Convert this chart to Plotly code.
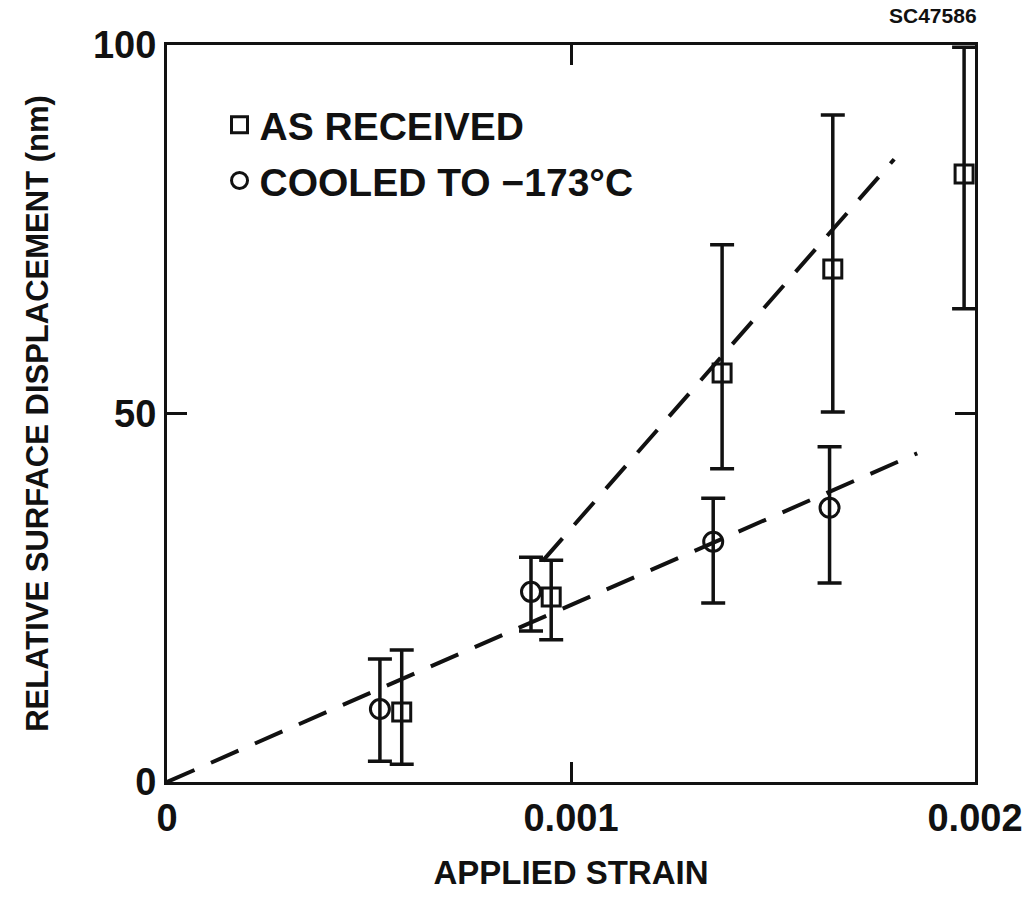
import plotly.graph_objects as go

# As received (squares)
ar_x = [0.000581, 0.000951, 0.001374, 0.001648, 0.001973]
ar_y = [9.5, 25.1, 55.5, 69.6, 82.5]
ar_hi = [17.9, 30.1, 72.9, 90.5, 99.7]
ar_lo = [2.4, 19.3, 42.5, 50.2, 64.2]

# Cooled to -173 C (circles)
c_x = [0.000527, 0.000901, 0.001352, 0.001640]
c_y = [9.9, 25.8, 32.6, 37.2]
c_hi = [16.7, 30.5, 38.5, 45.5]
c_lo = [2.8, 20.5, 24.3, 27.0]

# Dashed fit lines
fit_c_x = [0.0, 0.001857]
fit_c_y = [0.0, 44.6]
fit_ar_x = [0.00093, 0.0018]
fit_ar_y = [30.0, 84.5]

x_ticks = [0, 0.001, 0.002]
x_ticklabels = ["0", "0.001", "0.002"]
y_ticks = [0, 50, 100]
y_ticklabels = ["0", "50", "100"]

FONT = "Liberation Sans, Arial, Helvetica, sans-serif"
BLACK = "#111111"

fig = go.Figure()

fig.add_trace(go.Scatter(x=fit_c_x, y=fit_c_y, mode="lines",
                         line=dict(color=BLACK, width=4, dash="30px,18px"),
                         showlegend=False, hoverinfo="skip"))
fig.add_trace(go.Scatter(x=fit_ar_x, y=fit_ar_y, mode="lines",
                         line=dict(color=BLACK, width=4, dash="30px,18px"),
                         showlegend=False, hoverinfo="skip"))

fig.add_trace(go.Scatter(
    x=ar_x, y=ar_y, mode="markers", name="AS RECEIVED", legendgroup="a",
    marker=dict(symbol="square-open", size=18, color=BLACK, line=dict(width=3, color=BLACK)),
    error_y=dict(type="data", symmetric=False,
                 array=[h - v for h, v in zip(ar_hi, ar_y)],
                 arrayminus=[v - l for l, v in zip(ar_lo, ar_y)],
                 color=BLACK, thickness=3.5, width=12)))

fig.add_trace(go.Scatter(
    x=c_x, y=c_y, mode="markers", name="COOLED TO \u2212173\u00b0C", legendgroup="b",
    marker=dict(symbol="circle-open", size=19, color=BLACK, line=dict(width=3, color=BLACK)),
    error_y=dict(type="data", symmetric=False,
                 array=[h - v for h, v in zip(c_hi, c_y)],
                 arrayminus=[v - l for l, v in zip(c_lo, c_y)],
                 color=BLACK, thickness=3.5, width=12)))

axis_common = dict(showline=True, linecolor=BLACK, linewidth=3, mirror="ticks",
                   ticks="inside", ticklen=20, tickwidth=3, tickcolor=BLACK,
                   showgrid=False, zeroline=False,
                   tickfont=dict(family=FONT, size=38, color=BLACK, weight="bold"))

fig.update_xaxes(range=[0, 0.002], tickvals=x_ticks, ticktext=x_ticklabels,
                 title=dict(text="APPLIED STRAIN", standoff=24,
                            font=dict(family=FONT, size=33, color=BLACK, weight="bold")),
                 **axis_common)
fig.update_yaxes(range=[0, 100], tickvals=y_ticks, ticktext=y_ticklabels,
                 title=dict(text="RELATIVE SURFACE DISPLACEMENT (nm)", standoff=36,
                            font=dict(family=FONT, size=31, color=BLACK, weight="bold")),
                 **axis_common)

fig.update_layout(
    width=1035, height=899,
    margin=dict(l=167, r=53, t=45, b=117),
    paper_bgcolor="white", plot_bgcolor="white",
    showlegend=True,
    legend=dict(x=0.065, y=0.935, xanchor="left", yanchor="top",
                bgcolor="rgba(0,0,0,0)", tracegroupgap=2,
                font=dict(family=FONT, size=39, color=BLACK, weight="bold")),
    annotations=[dict(text="SC47586", x=1.0, y=1.0, xref="paper", yref="paper",
                      xanchor="right", yanchor="bottom", yshift=16, xshift=4, showarrow=False,
                      font=dict(family=FONT, size=21, color=BLACK, weight="bold"))],
)

fig.write_html("out.html")
